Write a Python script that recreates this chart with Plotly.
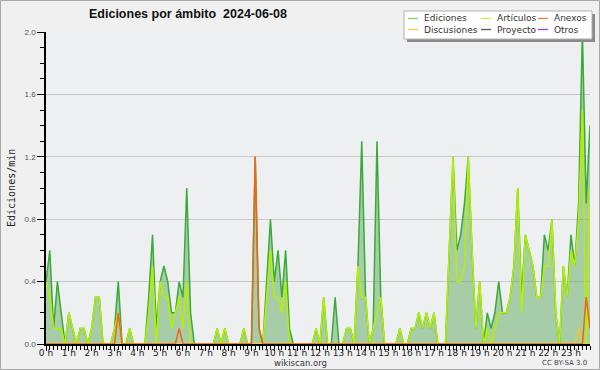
import plotly.graph_objects as go

# one value every 10 minutes (6 per hour), 24 rows = hours 0..23
slot_minutes = [h * 60 + m for h in range(24) for m in (0, 10, 20, 30, 40, 50)]

ediciones = [
    0.4, 0.6, 0.1, 0.4, 0.2, 0.0,
    0.2, 0.1, 0.0, 0.1, 0.1, 0.0,
    0.1, 0.3, 0.3, 0.0, 0.0, 0.0,
    0.1, 0.4, 0.0, 0.0, 0.1, 0.0,
    0.0, 0.0, 0.0, 0.3, 0.7, 0.1,
    0.4, 0.5, 0.4, 0.2, 0.2, 0.4,
    0.3, 1.0, 0.2, 0.0, 0.0, 0.0,
    0.0, 0.0, 0.0, 0.1, 0.0, 0.1,
    0.0, 0.0, 0.0, 0.0, 0.1, 0.0,
    0.0, 1.2, 0.1, 0.0, 0.4, 0.8,
    0.4, 0.6, 0.3, 0.6, 0.1, 0.0,
    0.0, 0.0, 0.0, 0.0, 0.0, 0.1,
    0.0, 0.3, 0.0, 0.0, 0.3, 0.0,
    0.0, 0.1, 0.1, 0.0, 0.5, 1.3,
    0.3, 0.0, 0.1, 1.3, 0.3, 0.0,
    0.0, 0.0, 0.0, 0.1, 0.0, 0.0,
    0.1, 0.1, 0.2, 0.1, 0.2, 0.1,
    0.2, 0.0, 0.0, 0.0, 0.6, 1.2,
    0.6, 0.7, 0.9, 1.2, 0.6, 0.1,
    0.4, 0.0, 0.2, 0.1, 0.2, 0.4,
    0.2, 0.2, 0.3, 0.5, 1.0, 0.3,
    0.7, 0.6, 0.5, 0.3, 0.3, 0.7,
    0.6, 0.8, 0.2, 0.0, 0.5, 0.3,
    0.7, 0.5, 0.9, 2.0, 0.9, 1.4,
]

articulos = [
    0.4, 0.3, 0.1, 0.1, 0.1, 0.0,
    0.2, 0.1, 0.0, 0.1, 0.1, 0.0,
    0.1, 0.3, 0.3, 0.0, 0.0, 0.0,
    0.1, 0.2, 0.0, 0.0, 0.1, 0.0,
    0.0, 0.0, 0.0, 0.2, 0.5, 0.0,
    0.4, 0.3, 0.3, 0.1, 0.2, 0.3,
    0.1, 0.4, 0.0, 0.0, 0.0, 0.0,
    0.0, 0.0, 0.0, 0.1, 0.0, 0.1,
    0.0, 0.0, 0.0, 0.0, 0.1, 0.0,
    0.0, 0.0, 0.0, 0.0, 0.3, 0.6,
    0.3, 0.3, 0.2, 0.4, 0.0, 0.0,
    0.0, 0.0, 0.0, 0.0, 0.0, 0.1,
    0.0, 0.3, 0.0, 0.0, 0.0, 0.0,
    0.0, 0.1, 0.1, 0.0, 0.5, 0.3,
    0.3, 0.0, 0.1, 0.2, 0.3, 0.0,
    0.0, 0.0, 0.0, 0.1, 0.0, 0.0,
    0.1, 0.1, 0.2, 0.1, 0.2, 0.1,
    0.2, 0.0, 0.0, 0.0, 0.6, 1.2,
    0.4, 0.4, 0.5, 1.2, 0.6, 0.1,
    0.4, 0.0, 0.1, 0.0, 0.1, 0.2,
    0.2, 0.2, 0.3, 0.5, 1.0, 0.2,
    0.7, 0.6, 0.5, 0.3, 0.3, 0.5,
    0.5, 0.8, 0.2, 0.0, 0.5, 0.3,
    0.6, 0.5, 0.8, 1.5, 0.0, 1.0,
]

anexos = [
    0, 0, 0, 0, 0, 0,
    0, 0, 0, 0, 0, 0,
    0, 0, 0, 0, 0, 0,
    0, 0.2, 0, 0, 0, 0,
    0, 0, 0, 0, 0, 0,
    0, 0, 0, 0, 0, 0.1,
    0, 0, 0, 0, 0, 0,
    0, 0, 0, 0, 0, 0,
    0, 0, 0, 0, 0, 0,
    0, 1.2, 0.1, 0, 0, 0,
    0, 0, 0, 0, 0, 0,
    0, 0, 0, 0, 0, 0,
    0, 0, 0, 0, 0, 0,
    0, 0, 0, 0, 0, 0,
    0, 0, 0, 0, 0, 0,
    0, 0, 0, 0, 0, 0,
    0, 0, 0, 0, 0, 0,
    0, 0, 0, 0, 0, 0,
    0, 0, 0, 0, 0, 0,
    0, 0, 0, 0, 0, 0,
    0, 0, 0, 0, 0, 0,
    0, 0, 0, 0, 0, 0,
    0, 0, 0, 0, 0, 0,
    0, 0, 0, 0, 0.3, 0.1,
]

discusiones = [
    0, 0, 0, 0, 0, 0,
    0, 0, 0, 0, 0, 0,
    0, 0, 0, 0, 0, 0,
    0, 0, 0, 0, 0, 0,
    0, 0, 0, 0, 0, 0,
    0, 0, 0, 0, 0, 0,
    0, 0, 0, 0, 0, 0,
    0, 0, 0, 0, 0, 0,
    0, 0, 0, 0, 0, 0,
    0, 0, 0, 0, 0, 0,
    0, 0, 0, 0, 0, 0,
    0, 0, 0, 0, 0, 0,
    0, 0, 0, 0, 0, 0,
    0, 0, 0, 0, 0, 0,
    0, 0, 0, 0, 0, 0,
    0, 0, 0, 0, 0, 0,
    0, 0, 0, 0, 0, 0,
    0, 0, 0, 0, 0, 0,
    0, 0, 0, 0, 0, 0,
    0, 0, 0, 0, 0, 0,
    0, 0, 0, 0, 0, 0,
    0, 0, 0, 0, 0, 0,
    0, 0, 0, 0, 0, 0,
    0, 0, 0.1, 0, 0, 0,
]

hour_ticks = list(range(24))
hour_labels = ["0 h", "1 h", "2 h", "3 h", "4 h", "5 h", "6 h", "7 h", "8 h", "9 h", "10 h", "11 h",
               "12 h", "13 h", "14 h", "15 h", "16 h", "17 h", "18 h", "19 h", "20 h", "21 h", "22 h", "23 h"]

legend_items = [
    ("Ediciones", "#7fd07f", 0), ("Artículos", "#c8ec50", 1), ("Anexos", "#f07a40", 2),
    ("Discusiones", "#f2d040", 0), ("Proyecto", "#555555", 1), ("Otros", "#9040f0", 2),
]

hours = [m / 60 for m in slot_minutes]

# plot area in pixels
L, R, T, B = 46, 590, 32, 344
W, H = R - L, B - T
def px(x):
    return (x - L) / W
def py(y):
    return (B - y) / H

fig = go.Figure()
fig.add_trace(go.Scatter(x=hours, y=ediciones, mode="lines", name="Ediciones",
                         line=dict(color="#3aaa3a", width=1.5),
                         fill="tozeroy", fillcolor="rgba(80,165,80,0.45)"))
fig.add_trace(go.Scatter(x=hours, y=articulos, mode="lines", name="Artículos",
                         line=dict(color="#b6f000", width=1.5)))
fig.add_trace(go.Scatter(x=hours, y=discusiones, mode="lines", name="Discusiones",
                         line=dict(color="#f2c830", width=1.3)))
fig.add_trace(go.Scatter(x=hours, y=anexos, mode="lines", name="Anexos",
                         line=dict(color="#f06418", width=1.5)))

shapes = []
annotations = []

# outer frame
shapes.append(dict(type="rect", xref="paper", yref="paper",
                   x0=px(0.5), x1=px(599.5), y0=py(369.5), y1=py(0.5),
                   line=dict(color="#a8a8a8", width=1), layer="below"))
# legend box with shadow
shapes.append(dict(type="rect", xref="paper", yref="paper",
                   x0=px(407), x1=px(595), y0=py(42), y1=py(14),
                   line=dict(width=0), fillcolor="#8a8a8a"))
shapes.append(dict(type="rect", xref="paper", yref="paper",
                   x0=px(404), x1=px(592), y0=py(39), y1=py(11),
                   line=dict(color="#b0b0b0", width=1), fillcolor="white"))
col_x = [408, 481, 538]
row_y = [18.5, 29.5]
for k, (name, color, col) in enumerate(legend_items):
    row = k // 3
    x0 = col_x[col]
    y = row_y[row]
    shapes.append(dict(type="line", xref="paper", yref="paper",
                       x0=px(x0), x1=px(x0 + 10), y0=py(y), y1=py(y),
                       line=dict(color=color, width=1.3)))
    annotations.append(dict(text=name, xref="paper", yref="paper", x=px(x0 + 14), y=py(y),
                            xanchor="left", yanchor="middle", showarrow=False,
                            font=dict(family="DejaVu Sans", size=9, color="#333")))

annotations.append(dict(text="<b>Ediciones por ámbito  2024-06-08</b>", xref="paper", yref="paper",
                        x=px(188), y=py(14), xanchor="center", yanchor="middle", showarrow=False,
                        font=dict(family="Liberation Sans", size=12.5, color="#111")))
annotations.append(dict(text="Ediciones/min", xref="paper", yref="paper", x=px(11), y=0.5,
                        textangle=-90, xanchor="center", yanchor="middle", showarrow=False,
                        font=dict(family="DejaVu Sans Mono", size=10, color="#222")))
annotations.append(dict(text="wikiscan.org", xref="paper", yref="paper", x=px(300), y=py(363),
                        xanchor="center", yanchor="middle", showarrow=False,
                        font=dict(family="DejaVu Sans", size=8.5, color="#333")))
annotations.append(dict(text="CC BY-SA 3.0", xref="paper", yref="paper", x=px(589), y=py(363),
                        xanchor="right", yanchor="middle", showarrow=False,
                        font=dict(family="DejaVu Sans", size=7, color="#444")))

fig.update_layout(
    width=600, height=370,
    margin=dict(l=L, r=600 - R, t=T, b=370 - B, pad=0, autoexpand=False),
    paper_bgcolor="#f0f0f0", plot_bgcolor="#eeeff0",
    showlegend=False, shapes=shapes, annotations=annotations,
)
fig.update_xaxes(
    range=[0, hours[-1]], tickvals=hour_ticks, ticktext=hour_labels, automargin=False,
    ticks="outside", ticklen=5, tickwidth=1, tickcolor="black", ticklabelstandoff=-6,
    showline=True, linecolor="black", linewidth=2, showgrid=False, zeroline=False,
    minor=dict(dtick=1 / 6, tick0=0, ticks="outside", ticklen=4, tickcolor="black", showgrid=False),
    tickfont=dict(family="DejaVu Sans", size=9, color="#222"),
)
fig.update_yaxes(
    range=[0, 2.0], dtick=0.4, tick0=0, tickformat=".1f", automargin=False,
    ticks="outside", ticklen=7, tickwidth=1, tickcolor="black",
    showline=True, linecolor="black", linewidth=1.5,
    showgrid=True, gridcolor="#c8c8c8", gridwidth=1, zeroline=False,
    minor=dict(dtick=0.1, ticks="outside", ticklen=4, tickcolor="black", showgrid=False),
    tickfont=dict(family="Liberation Sans", size=8, color="#555"),
)

fig.write_html("out.html", config={"displayModeBar": False},
               post_script="document.body.style.margin='0';document.body.style.padding='0';")
